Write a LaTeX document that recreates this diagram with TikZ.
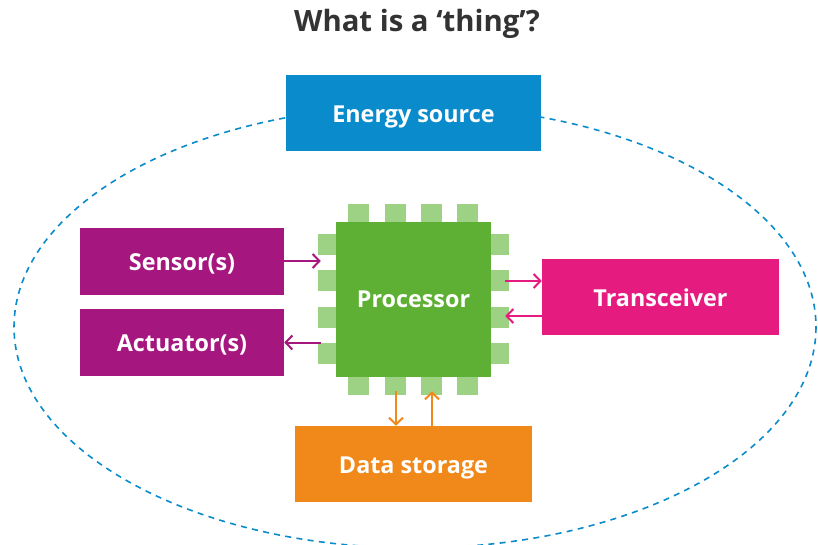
\documentclass[tikz,border=0pt]{standalone}
\usepackage{fontspec}
\setmainfont{Open Sans}
\usetikzlibrary{arrows.meta}
\definecolor{cblue}{HTML}{0A8BCB}
\definecolor{cpurple}{HTML}{A5177F}
\definecolor{cpink}{HTML}{E61B80}
\definecolor{corange}{HTML}{F0891A}
\definecolor{cgreen}{HTML}{5DB034}
\definecolor{cpin}{HTML}{9DD184}
\definecolor{ctitle}{HTML}{333333}
\tikzset{
  lbl/.style={text=white, font=\bfseries\fontsize{17.5}{21}\selectfont, text height=13.5pt, text depth=0pt},
  box/.style={draw=none, inner sep=0pt, lbl},
  pin/.style={fill=cpin, draw=none, inner sep=0pt, minimum width=15.75pt, minimum height=15.75pt},
  arr/.style={line width=1.5pt, -{Straight Barb[length=5pt,width=10.5pt,line width=1.5pt]}},
}
\begin{document}
\begin{tikzpicture}[x=0.75pt,y=-0.75pt]
\useasboundingbox (0,0) rectangle (818,544);
% ellipse
\draw[cblue, line width=1.2pt, dash pattern=on 4.5pt off 4pt] (415,327) ellipse [x radius=401, y radius=221];
% title
\node[text=ctitle, font=\bfseries\fontsize{22}{26}\selectfont] (title) at (417,24) {What is a ‘thing’?};
% energy
\node[box, fill=cblue, minimum width=191.25pt, minimum height=57pt] (energy) at (413.5,113) {Energy source};
% sensors / actuators
\node[box, fill=cpurple, minimum width=153pt, minimum height=50.25pt] (sensor) at (182,261) {Sensor(s)};
\node[box, fill=cpurple, minimum width=153pt, minimum height=50.25pt] (act) at (182,342.5) {Actuator(s)};
% transceiver
\node[box, fill=cpink, minimum width=177.75pt, minimum height=57pt] (trans) at (660.5,297) {Transceiver};
% data storage
\node[box, fill=corange, minimum width=177.75pt, minimum height=57pt] (data) at (413.5,464) {Data storage};
% chip outline (invisible)
\node[draw=none, inner sep=0pt, minimum width=138pt, minimum height=138pt] (chip) at (413,299) {};
% pins
\foreach \i/\x in {1/358.5,2/395.5,3/431.5,4/467.5}{
  \node[pin] (pt\i) at (\x,214.5) {};
  \node[pin] (pb\i) at (\x,384) {};
}
\foreach \i/\y in {1/244.5,2/280.5,3/317.5,4/353.5}{
  \node[pin] (pl\i) at (328.5,\y) {};
  \node[pin] (pr\i) at (498,\y) {};
}
% processor
\node[box, fill=cgreen, minimum width=116.25pt, minimum height=116.25pt] (proc) at (413.5,299) {};
\node[lbl, inner sep=0pt] (proclabel) at (413.5,298) {Processor};
% arrows
\draw[arr, cpurple] (sensor.east) -- (sensor.east -| chip.west);
\draw[arr, cpurple] (act.east -| chip.west) -- (act.east);
\draw[arr, cpink] ([yshift=12pt]trans.west -| chip.east) -- ([yshift=12pt]trans.west);
\draw[arr, cpink] ([yshift=-14.25pt]trans.west) -- ([yshift=-14.25pt]trans.west -| chip.east);
\draw[arr, corange] ([xshift=-13.125pt]data.north |- chip.south) -- ([xshift=-13.125pt]data.north);
\draw[arr, corange] ([xshift=13.875pt]data.north) -- ([xshift=13.875pt]data.north |- chip.south);
\end{tikzpicture}
\end{document}
